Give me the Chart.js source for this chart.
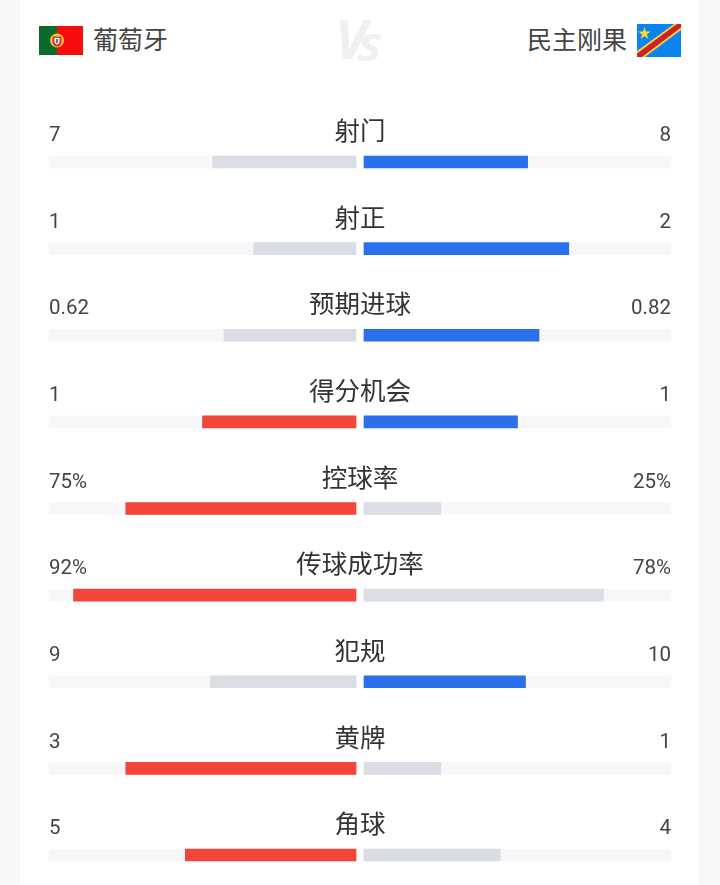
<!DOCTYPE html>
<html lang="zh">
<head>
<meta charset="utf-8">
<title>葡萄牙 vs 民主刚果</title>
<script src="https://cdn.jsdelivr.net/npm/chart.js@4"></script>
<style>
    html, body { margin: 0; padding: 0; background: #f7f8fa; overflow: hidden; }
    #page { position: relative; width: 720px; height: 885px; overflow: hidden; }
    #card { position: absolute; left: 20px; top: 0; width: 679px; height: 885px; background: #fff; }
    #statsChart { position: absolute; left: 0; top: 0; }
    .team { position: absolute; top: 21px; font: 25px/34px "Noto Sans CJK SC"; color: #444; white-space: nowrap; }
    .flag { position: absolute; }
    #vsV, #vsS { position: absolute; font-style: italic; font-weight: 700; font-family: "Open Sans"; color: #eff0f2; white-space: nowrap; line-height: 60px; }
    #vsV { left: 335px; top: 8px; font-size: 54px; }
    #vsS { left: 357px; top: 16px; font-size: 38px; transform: scaleX(1.2); transform-origin: left; }
</style>
</head>
<body>
<div id="page">
    <div id="card"></div>
    <svg class="flag" style="left:39px;top:26px" width="44" height="29" viewBox="0 0 44 29">
        <rect width="44" height="29" fill="#f60d0d"/>
        <rect width="18" height="29" fill="#0a6a2a"/>
        <circle cx="18" cy="14.5" r="7" fill="#e9c93c"/>
        <path d="M13.5 10.5h9v5.5a4.5 4.5 0 0 1-9 0z" fill="#d9332e"/>
        <path d="M15.5 12h5v4a2.5 2.5 0 0 1-5 0z" fill="#f4f4f4"/>
        <rect x="17.2" y="13" width="1.6" height="4" fill="#2b4fa8"/>
    </svg>
    <div class="team" style="left:93px">葡萄牙</div>
    <div id="vsV">V</div><div id="vsS">S</div>
    <div class="team" style="left:527px">民主刚果</div>
    <svg class="flag" style="left:637px;top:24px" width="44" height="33" viewBox="0 0 44 33">
        <rect width="44" height="33" fill="#0a85f0"/>
        <polygon points="0,27 37,0 44,0 44,6 8,33 0,33" fill="#f4d23c"/>
        <polygon points="0,29.5 40,0 44,0 44,3.5 5,33 0,33" fill="#cf2027"/>
        <polygon points="7.5,3 9,7.6 13.8,7.6 9.9,10.4 11.4,15 7.5,12.2 3.6,15 5.1,10.4 1.2,7.6 6,7.6" fill="#f7d92f"/>
    </svg>
    <canvas id="statsChart" width="720" height="885"></canvas>
</div>
<script>
const categories = ['射门', '射正', '预期进球', '得分机会', '控球率', '传球成功率', '犯规', '黄牌', '角球'];
const homeLabels = ['7', '1', '0.62', '1', '75%', '92%', '9', '3', '5'];
const awayLabels = ['8', '2', '0.82', '1', '25%', '78%', '10', '1', '4'];
// bar length in percent of the track
const homeBars = [46.7, 33.3, 43, 50, 75, 92, 47.4, 75, 55.6];
const awayBars = [53.3, 66.7, 57, 50, 25, 78, 52.6, 25, 44.4];
const trackFull = [100, 100, 100, 100, 100, 100, 100, 100, 100];

const TRACK = '#f6f7f9';
const GREY = '#dadde4';
const RED = '#f4453a';
const BLUE = '#2b6fec';

// the side with the lower number stays grey
function homeColor(ctx) {
    return parseFloat(homeLabels[ctx.dataIndex]) >= parseFloat(awayLabels[ctx.dataIndex]) ? RED : GREY;
}
function awayColor(ctx) {
    return parseFloat(awayLabels[ctx.dataIndex]) >= parseFloat(homeLabels[ctx.dataIndex]) ? BLUE : GREY;
}

// category name above the bars, numbers at both ends
const rowText = {
    id: 'rowText',
    afterDatasetsDraw(chart) {
        const { ctx, chartArea, scales } = chart;
        ctx.save();
        ctx.textBaseline = 'middle';
        categories.forEach((name, i) => {
            const y = scales.y.getPixelForValue(i);
            ctx.fillStyle = '#333';
            ctx.textAlign = 'center';
            ctx.font = '25.5px "Noto Sans CJK SC"';
            ctx.fillText(name, (chartArea.left + chartArea.right) / 2, y - 31.5);
            ctx.fillStyle = '#444';
            ctx.font = '20.5px Roboto';
            ctx.textAlign = 'left';
            ctx.fillText(homeLabels[i], chartArea.left, y - 26);
            ctx.textAlign = 'right';
            ctx.fillText(awayLabels[i], chartArea.right, y - 26);
        });
        ctx.restore();
    }
};

const common = { barThickness: 12, clip: false, grouped: false, borderWidth: 0 };

new Chart(document.getElementById('statsChart'), {
    type: 'bar',
    data: {
        labels: categories,
        datasets: [
            { ...common, label: 'home track', data: trackFull, xAxisID: 'xHome', backgroundColor: TRACK, order: 2 },
            { ...common, label: 'away track', data: trackFull, xAxisID: 'xAway', backgroundColor: TRACK, order: 2 },
            { ...common, label: '葡萄牙', data: homeBars, xAxisID: 'xHome', backgroundColor: homeColor, order: 1 },
            { ...common, label: '民主刚果', data: awayBars, xAxisID: 'xAway', backgroundColor: awayColor, order: 1 }
        ]
    },
    options: {
        indexAxis: 'y',
        responsive: false,
        animation: false,
        layout: { padding: { left: 49, right: 49, top: 162, bottom: 30 } },
        plugins: { legend: { display: false }, tooltip: { enabled: false } },
        scales: {
            y: { type: 'category', offset: false, display: false },
            // both axes span the whole row, zero sits at the inner end of each track
            xHome: { type: 'linear', display: false, reverse: true, min: -102.6, max: 100 },
            xAway: { type: 'linear', display: false, min: -102.6, max: 100 }
        }
    },
    plugins: [rowText]
});
</script>
</body>
</html>
